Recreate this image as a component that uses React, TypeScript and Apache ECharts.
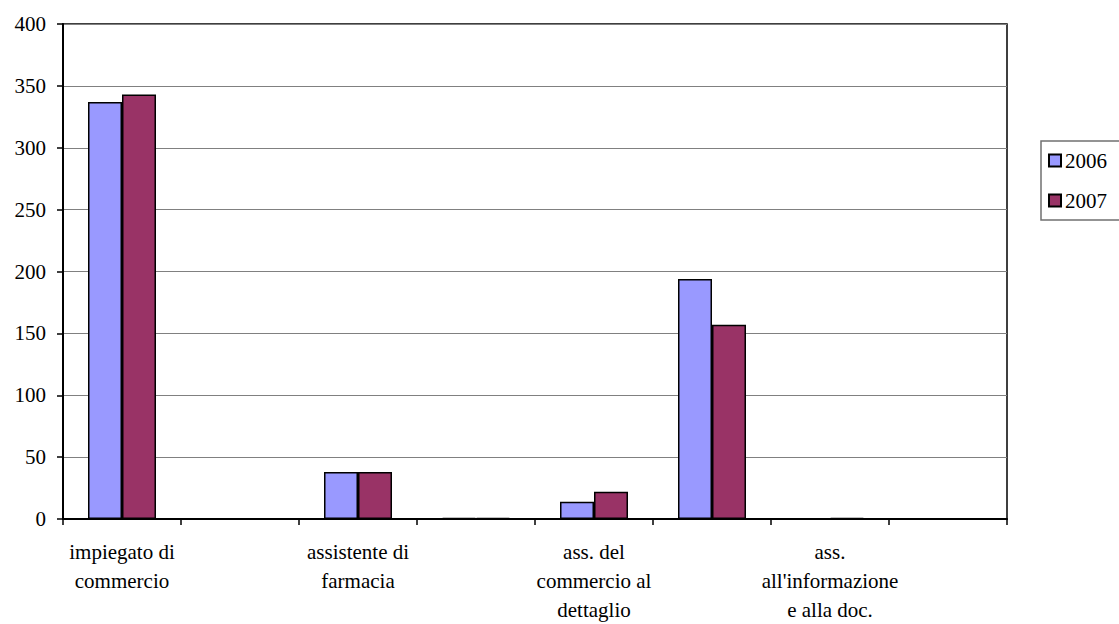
import React, { useEffect, useRef } from "react";
import * as echarts from "echarts";

// Category labels (line breaks as printed under the axis)
const categories: string[] = [
  "impiegato di\ncommercio",
  "",
  "assistente di\nfarmacia",
  "",
  "ass. del\ncommercio al\ndettaglio",
  "",
  "ass.\nall'informazione\ne alla doc.",
  "",
];

const seriesNames: string[] = ["2006", "2007"];
const values2006: number[] = [337, 0, 38, 1, 14, 194, 0, 0];
const values2007: number[] = [343, 0, 38, 1, 22, 157, 1, 0];

const yMin = 0;
const yMax = 400;
const yStep = 50;

const FONT = "Liberation Serif";

export default function App() {
  const ref = useRef<HTMLDivElement>(null);

  useEffect(() => {
    document.body.style.margin = "0";
    if (!ref.current) return;
    const chart = echarts.init(ref.current, undefined, { renderer: "svg" });
    chart.setOption({
      animation: false,
      backgroundColor: "#ffffff",
      textStyle: { fontFamily: FONT, color: "#000" },
      grid: {
        left: 63,
        top: 24,
        right: 112,
        bottom: 102,
        show: true,
        borderColor: "#000",
        borderWidth: 1.5,
        backgroundColor: "transparent",
      },
      legend: {
        orient: "vertical",
        left: 1041,
        top: 141,
        padding: [9, 30, 9, 7],
        itemGap: 19,
        itemWidth: 12,
        itemHeight: 12,
        borderColor: "#707070",
        borderWidth: 1.5,
        textStyle: { fontFamily: FONT, fontSize: 21, color: "#000", padding: [0, 0, 0, -1] },
        data: seriesNames.map((n) => ({ name: n, icon: "rect" })),
      },
      xAxis: {
        type: "category",
        data: categories,
        axisLine: { lineStyle: { color: "#000", width: 2 } },
        axisTick: { show: true, interval: 0, length: 6, lineStyle: { color: "#000", width: 1.5 } },
        axisLabel: {
          interval: 1,
          margin: 18,
          fontFamily: FONT,
          fontSize: 21,
          lineHeight: 29,
          color: "#000",
        },
        splitLine: { show: false },
      },
      yAxis: {
        type: "value",
        min: yMin,
        max: yMax,
        interval: yStep,
        axisLine: { show: true, lineStyle: { color: "#000", width: 2 } },
        axisTick: { show: true, length: 6, lineStyle: { color: "#000", width: 1.5 } },
        axisLabel: { margin: 17, fontFamily: FONT, fontSize: 21, color: "#000" },
        splitLine: { show: true, lineStyle: { color: "#808080", width: 1.2 } },
      },
      series: [
        {
          name: seriesNames[0],
          type: "bar",
          data: values2006,
          barWidth: 34,
          barGap: "0%",
          itemStyle: { color: "#9999FF", borderColor: "#000", borderWidth: 1.5 },
        },
        {
          name: seriesNames[1],
          type: "bar",
          data: values2007,
          barWidth: 34,
          barGap: "0%",
          itemStyle: { color: "#993366", borderColor: "#000", borderWidth: 1.5 },
        },
      ],
    });
    return () => chart.dispose();
  }, []);

  return <div ref={ref} style={{ width: 1119, height: 624 }} />;
}
